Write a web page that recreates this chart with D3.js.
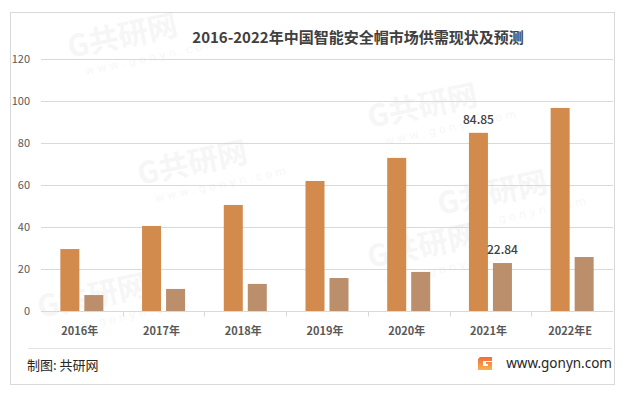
<!DOCTYPE html>
<html>
<head>
<meta charset="utf-8">
<script src="https://cdn.jsdelivr.net/npm/d3@7"></script>
<style>
  html, body { margin: 0; padding: 0; background: #fff; }
  svg { display: block; }
</style>
</head>
<body>
<svg id="chart" width="622" height="397"></svg>
<script>
// data
var years = ["2016年", "2017年", "2018年", "2019年", "2020年", "2021年", "2022年E"];
var series = ["supply", "demand"];
var supply = [29.5, 40.5, 50.5, 61.9, 72.9, 84.85, 96.7];
var demand = [7.6, 10.5, 12.9, 15.7, 18.6, 22.84, 25.7];
var yTicks = [0, 20, 40, 60, 80, 100, 120];
var labelled = ["2021年"];

var COLORS = {supply: "#D28B4C", demand: "#BB8E6C"};
var FONT = "'Noto Sans CJK SC', 'Noto Sans', sans-serif";

var svg = d3.select("#chart");

// outer frame
svg.append("rect")
    .attr("x", 10.5).attr("y", 12.5)
    .attr("width", 604).attr("height", 372)
    .attr("fill", "#fff")
    .attr("stroke", "#d9d9d9");

// faint watermarks
var marks = [[70, 58], [140, 185], [370, 128], [370, 268], [40, 318], [440, 215]];
marks.forEach(function (m) {
    var g = svg.append("g")
        .attr("transform", "translate(" + m[0] + "," + m[1] + ") rotate(-12)")
        .attr("fill", "#000").attr("opacity", 0.03);
    g.append("text").text("G共研网")
        .attr("font-family", FONT).attr("font-weight", "bold")
        .attr("font-size", 30);
    g.append("text").text("w w w . g o n y n . c o m")
        .attr("x", 12).attr("y", 20)
        .attr("font-family", "'DejaVu Sans', sans-serif")
        .attr("font-size", 11);
});

var x0 = d3.scaleBand().domain(years).range([41, 613]);
var x1 = d3.scaleBand().domain(series).range([0, 43]).paddingInner(5 / 24);
var y = d3.scaleLinear().domain([0, 120]).range([311, 59]);
var groupOff = (x0.bandwidth() - 43) / 2;

// gridlines
svg.append("g").selectAll("line")
    .data(yTicks.slice(1))
    .enter().append("line")
    .attr("x1", 41).attr("x2", 613)
    .attr("y1", function (d) { return Math.round(y(d)) + 0.5; })
    .attr("y2", function (d) { return Math.round(y(d)) + 0.5; })
    .attr("stroke", "#d9d9d9");

// y labels
svg.append("g").selectAll("text")
    .data(yTicks)
    .enter().append("text")
    .text(function (d) { return d; })
    .attr("x", 30)
    .attr("y", function (d) { return y(d) + 4; })
    .attr("text-anchor", "end")
    .attr("font-family", FONT)
    .attr("font-size", 11)
    .attr("fill", "#595959");

// bars
var rows = years.map(function (yr, i) {
    return {year: yr, vals: [{k: "supply", v: supply[i]}, {k: "demand", v: demand[i]}]};
});

var groups = svg.append("g").selectAll("g")
    .data(rows)
    .enter().append("g")
    .attr("transform", function (d) { return "translate(" + (x0(d.year) + groupOff) + ",0)"; });

groups.selectAll("rect")
    .data(function (d) { return d.vals; })
    .enter().append("rect")
    .attr("x", function (d) { return x1(d.k); })
    .attr("width", x1.bandwidth())
    .attr("y", function (d) { return y(d.v); })
    .attr("height", function (d) { return y(0) - y(d.v); })
    .attr("fill", function (d) { return COLORS[d.k]; });

groups.filter(function (d) { return labelled.indexOf(d.year) >= 0; })
    .selectAll("text")
    .data(function (d) { return d.vals; })
    .enter().append("text")
    .text(function (d) { return d.v.toFixed(2); })
    .attr("x", function (d) { return x1(d.k) + x1.bandwidth() / 2; })
    .attr("y", function (d) { return y(d.v) - 9; })
    .attr("text-anchor", "middle")
    .attr("font-family", FONT)
    .attr("font-weight", 500)
    .attr("font-size", 12)
    .attr("fill", "#404040");

// x axis
var xAxis = svg.append("g").attr("transform", "translate(0,311.5)");
xAxis.append("line").attr("x1", 41).attr("x2", 613).attr("stroke", "#d9d9d9");
xAxis.selectAll(".tk")
    .data(years.slice(1))
    .enter().append("line")
    .attr("x1", function (d) { return Math.round(x0(d)) + 0.5; })
    .attr("x2", function (d) { return Math.round(x0(d)) + 0.5; })
    .attr("y1", 0).attr("y2", 5)
    .attr("stroke", "#d9d9d9");
xAxis.selectAll("text")
    .data(years)
    .enter().append("text")
    .text(function (d) { return d; })
    .attr("x", function (d) { return x0(d) + x0.bandwidth() / 2 - 2; })
    .attr("y", 23)
    .attr("text-anchor", "middle")
    .attr("font-family", FONT)
    .attr("font-weight", "bold")
    .attr("font-size", 11)
    .attr("fill", "#595959");

// title
svg.append("text")
    .text("2016-2022年中国智能安全帽市场供需现状及预测")
    .attr("x", 358).attr("y", 43)
    .attr("text-anchor", "middle")
    .attr("font-family", FONT)
    .attr("font-weight", "bold")
    .attr("font-size", 15)
    .attr("fill", "#404040");

// footer
svg.append("line")
    .attr("x1", 28).attr("x2", 612)
    .attr("y1", 348.5).attr("y2", 348.5)
    .attr("stroke", "#e3e3e3");
svg.append("text")
    .text("制图: 共研网")
    .attr("x", 27).attr("y", 370)
    .attr("font-family", FONT)
    .attr("font-size", 13)
    .attr("fill", "#262626");

var logo = svg.append("g").attr("transform", "translate(478,357)");
var grad = svg.append("defs").append("linearGradient")
    .attr("id", "lg").attr("x1", 0).attr("y1", 0).attr("x2", 0).attr("y2", 1);
grad.append("stop").attr("offset", 0).attr("stop-color", "#f26b3a");
grad.append("stop").attr("offset", 1).attr("stop-color", "#f9b24c");
logo.append("path")
    .attr("d", "M2,0 H14 V4 H5 V9 H10 V7 H8 V5 H14 V13 H0 V2 Z")
    .attr("fill", "url(#lg)");

svg.append("text")
    .text("www.gonyn.com")
    .attr("x", 612).attr("y", 368)
    .attr("text-anchor", "end")
    .attr("font-family", "'Noto Sans', sans-serif")
    .attr("font-size", 13.5)
    .attr("fill", "#262626");
</script>
</body>
</html>
